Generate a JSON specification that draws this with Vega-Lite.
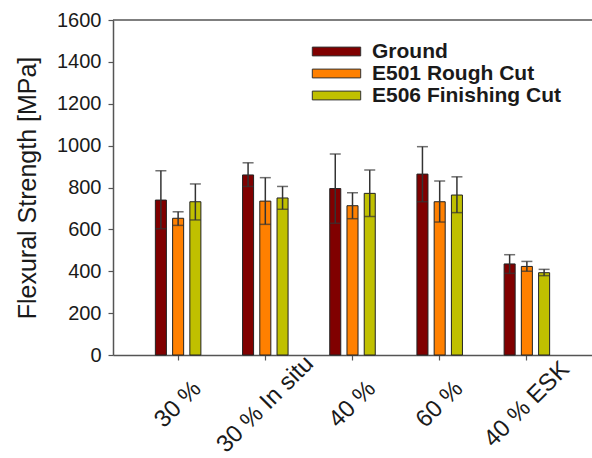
{
  "$schema": "https://vega.github.io/schema/vega-lite/v6.json",
  "autosize": "none",
  "width": 479,
  "height": 335,
  "padding": {"left": 113, "top": 20, "right": 0, "bottom": 103},
  "config": {
    "font": "Liberation Sans",
    "view": {"stroke": null},
    "axis": {"grid": false, "domainColor": "#555", "domainWidth": 1.5, "tickColor": "#555", "tickWidth": 1.2, "labelColor": "#1a1a1a", "titleColor": "#1a1a1a", "labelFont": "Liberation Sans", "titleFont": "Liberation Sans"}
  },
  "data": {"values": [
    {"group": "30 %", "series": "Ground", "value": 740, "lo": 603, "hi": 880},
    {"group": "30 %", "series": "E501 Rough Cut", "value": 653, "lo": 619, "hi": 684},
    {"group": "30 %", "series": "E506 Finishing Cut", "value": 732, "lo": 645, "hi": 817},
    {"group": "30 % In situ", "series": "Ground", "value": 860, "lo": 805, "hi": 918},
    {"group": "30 % In situ", "series": "E501 Rough Cut", "value": 735, "lo": 624, "hi": 847},
    {"group": "30 % In situ", "series": "E506 Finishing Cut", "value": 750, "lo": 696, "hi": 805},
    {"group": "40 %", "series": "Ground", "value": 795, "lo": 629, "hi": 960},
    {"group": "40 %", "series": "E501 Rough Cut", "value": 713, "lo": 651, "hi": 775},
    {"group": "40 %", "series": "E506 Finishing Cut", "value": 772, "lo": 662, "hi": 883},
    {"group": "60 %", "series": "Ground", "value": 864, "lo": 732, "hi": 995},
    {"group": "60 %", "series": "E501 Rough Cut", "value": 732, "lo": 635, "hi": 831},
    {"group": "60 %", "series": "E506 Finishing Cut", "value": 764, "lo": 680, "hi": 851},
    {"group": "40 % ESK", "series": "Ground", "value": 435, "lo": 390, "hi": 479},
    {"group": "40 % ESK", "series": "E501 Rough Cut", "value": 423, "lo": 400, "hi": 447},
    {"group": "40 % ESK", "series": "E506 Finishing Cut", "value": 393, "lo": 379, "hi": 409}
  ]},
  "encoding": {
    "x": {
      "field": "group", "type": "nominal", "sort": null,
      "scale": {"paddingInner": 0.478, "paddingOuter": 0.486},
      "axis": {"title": null, "labelAngle": -45, "labelAlign": "center", "labelBaseline": "middle", "labelFontSize": 24, "tickSize": 5, "labelPadding": 44, "labelDx": -3, "labelLimit": 300}
    },
    "xOffset": {"field": "series", "type": "nominal", "sort": ["Ground", "E501 Rough Cut", "E506 Finishing Cut"], "scale": {"paddingInner": 0.36, "paddingOuter": 0}}
  },
  "layer": [
    {
      "data": {"values": [{"top": 1600}]},
      "mark": {"type": "rule", "color": "#555", "strokeWidth": 1.5},
      "encoding": {"x": null, "xOffset": null, "y": {"field": "top", "type": "quantitative"}}
    },
    {
      "mark": {"type": "bar", "stroke": "#222", "strokeWidth": 1},
      "encoding": {
        "y": {
          "field": "value", "type": "quantitative",
          "scale": {"domain": [0, 1600], "nice": false},
          "axis": {"title": "Flexural Strength [MPa]", "values": [0, 200, 400, 600, 800, 1000, 1200, 1400, 1600], "format": "d", "labelFontSize": 20, "titleFontSize": 25, "titleFontWeight": "normal", "tickSize": 5, "labelPadding": 7, "titlePadding": 16}
        },
        "color": {
          "field": "series", "type": "nominal",
          "sort": ["Ground", "E501 Rough Cut", "E506 Finishing Cut"],
          "scale": {"domain": ["Ground", "E501 Rough Cut", "E506 Finishing Cut"], "range": ["#800000", "#ff8000", "#c0c000"]},
          "legend": {
            "title": null, "orient": "none", "legendX": 212, "legendY": 20,
            "padding": 0, "labelFontSize": 21, "labelFontWeight": "bold", "labelColor": "#1a1a1a", "labelLimit": 400,
            "symbolType": "M-2.2,-0.4L2.2,-0.4L2.2,0.4L-2.2,0.4Z", "symbolSize": 484,
            "symbolStrokeColor": "#333", "symbolStrokeWidth": 1, "symbolOpacity": 1,
            "rowPadding": 0, "labelOffset": 24
          }
        }
      }
    },
    {
      "mark": {"type": "rule", "color": "#333", "strokeWidth": 1.5},
      "encoding": {"y": {"field": "lo", "type": "quantitative"}, "y2": {"field": "hi"}}
    },
    {
      "mark": {"type": "tick", "color": "#333", "thickness": 1.5, "size": 11, "orient": "horizontal"},
      "encoding": {"y": {"field": "hi", "type": "quantitative"}}
    },
    {
      "mark": {"type": "tick", "color": "#333", "thickness": 1.5, "size": 11, "orient": "horizontal"},
      "encoding": {"y": {"field": "lo", "type": "quantitative"}}
    }
  ]
}
